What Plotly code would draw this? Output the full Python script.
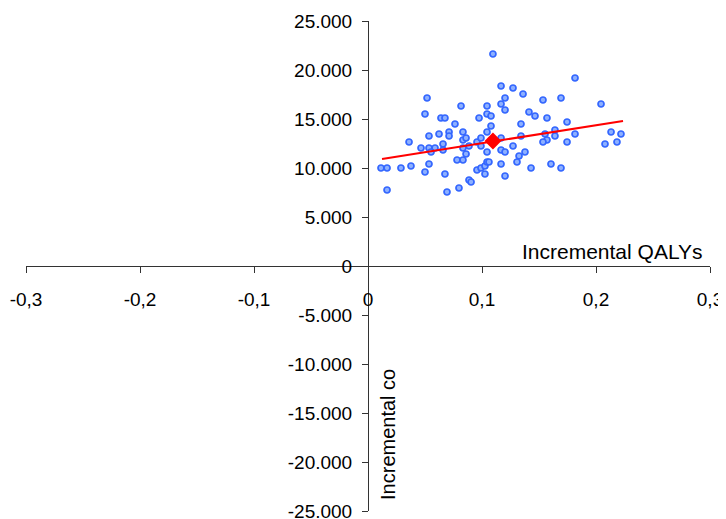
import plotly.graph_objects as go

# ---- data (incremental QALYs, incremental costs) ----
inc_qaly = [
    0.1096, 0.0518, 0.0500, 0.0816, 0.1044, 0.0640, 0.0675, 0.0763, 0.0974, 0.1044,
    0.1079, 0.1079, 0.0711, 0.0711, 0.0623, 0.0535, 0.0833, 0.1044, 0.0360, 0.0465,
    0.0535, 0.0588, 0.0553, 0.0658, 0.0658, 0.0833, 0.0860, 0.0886, 0.0956, 0.0991,
    0.0991, 0.0833, 0.0860, 0.1044, 0.0781, 0.0833, 0.0535, 0.0114, 0.0167, 0.0289,
    0.0377, 0.0500, 0.0675, 0.0956, 0.0991, 0.1026, 0.1044, 0.1061, 0.1026, 0.0886,
    0.0904, 0.0798, 0.0693, 0.0167,
    0.1816, 0.1167, 0.1272, 0.1360, 0.1202, 0.1167, 0.1202, 0.1535, 0.1693, 0.2044,
    0.1412, 0.1465, 0.1570, 0.1342, 0.1746, 0.1553, 0.1640, 0.1342, 0.1640, 0.1816,
    0.1167, 0.1570, 0.1535, 0.1746, 0.2132, 0.2219, 0.2184, 0.2079, 0.1272, 0.1167,
    0.1202, 0.1377, 0.1325, 0.1307, 0.1167, 0.1430, 0.1605, 0.1693, 0.1202,
]
inc_cost = [
    21633, 17143, 15510, 16327, 16327, 15102, 15102, 14490, 15102, 15510,
    15306, 14286, 13673, 13265, 13469, 13265, 13673, 13673, 12653, 12041,
    12041, 12041, 11633, 12449, 11837, 12857, 13061, 12245, 12653, 13061,
    12245, 12041, 11429, 11633, 10816, 10816, 10408, 10000, 10000, 10000,
    10204, 9592, 9388, 9796, 10000, 10204, 10612, 10612, 9388, 8776,
    8571, 7959, 7551, 7755,
    19184, 18367, 18163, 17551, 17143, 16531, 15918, 16939, 17143, 16531,
    15714, 15306, 15102, 14490, 14694, 13469, 13878, 13265, 13265, 13469,
    13061, 12857, 12653, 12653, 13673, 13469, 12653, 12449, 12245, 11837,
    11633, 11633, 11224, 10612, 10408, 10000, 10408, 10000, 9184,
]
mean_qaly = [0.1096]
mean_cost = [12755]
trend_qaly = [0.0123, 0.2237]
trend_cost = [10918, 14796]

x_tick_vals = [-0.3, -0.2, -0.1, 0, 0.1, 0.2, 0.3]
x_tick_labels = ["-0,3", "-0,2", "-0,1", "0", "0,1", "0,2", "0,3"]
y_tick_vals = [25000, 20000, 15000, 10000, 5000, 0, -5000, -10000, -15000, -20000, -25000]
y_tick_labels = ["25.000", "20.000", "15.000", "10.000", "5.000", "0",
                 "-5.000", "-10.000", "-15.000", "-20.000", "-25.000"]

x_title = "Incremental QALYs"
y_title = "Incremental co"

FONT = "Liberation Sans, Arial, sans-serif"

fig = go.Figure()
fig.add_trace(go.Scatter(
    x=inc_qaly, y=inc_cost, mode="markers",
    marker=dict(size=6, color="#8DB0FF", line=dict(color="#3366FF", width=1.7)),
    showlegend=False, hoverinfo="skip",
))
fig.add_trace(go.Scatter(
    x=trend_qaly, y=trend_cost, mode="lines",
    line=dict(color="#FF0000", width=2),
    showlegend=False, hoverinfo="skip",
))
fig.add_trace(go.Scatter(
    x=mean_qaly, y=mean_cost, mode="markers",
    marker=dict(symbol="diamond", size=13, color="#FF0000"),
    showlegend=False, hoverinfo="skip",
))

# the page body adds an 8px margin, so the figure is sized to fit the window
fig.update_layout(
    width=718, height=511,
    margin=dict(l=18, r=16, t=13, b=8),
    paper_bgcolor="white", plot_bgcolor="white",
    font=dict(family=FONT, size=19, color="#000000"),
    xaxis=dict(
        range=[-0.3, 0.3], anchor="free", position=0.5, automargin=False,
        showline=True, linecolor="#333333", linewidth=1,
        showgrid=False, zeroline=False,
        ticks="outside", ticklen=6, tickcolor="#333333",
        tickvals=x_tick_vals, ticktext=x_tick_labels,
        ticklabelstandoff=10, ticklabeloverflow="allow",
    ),
    yaxis=dict(
        range=[-25000, 25000], anchor="free", position=0.5, automargin=False,
        showline=True, linecolor="#333333", linewidth=1,
        showgrid=False, zeroline=False,
        ticks="outside", ticklen=6, tickcolor="#333333",
        tickvals=y_tick_vals, ticktext=y_tick_labels,
        ticklabelstandoff=6, ticklabeloverflow="allow",
    ),
    annotations=[
        dict(x=0.2956, y=1530, xref="x", yref="y", text=x_title,
             showarrow=False, xanchor="right", yanchor="middle",
             font=dict(family=FONT, size=21, color="#000000")),
        dict(x=0.0175, y=-17143, xref="x", yref="y", text=y_title,
             showarrow=False, textangle=-90, xanchor="center", yanchor="middle",
             font=dict(family=FONT, size=20, color="#000000")),
    ],
)

fig.write_html("out.html")
